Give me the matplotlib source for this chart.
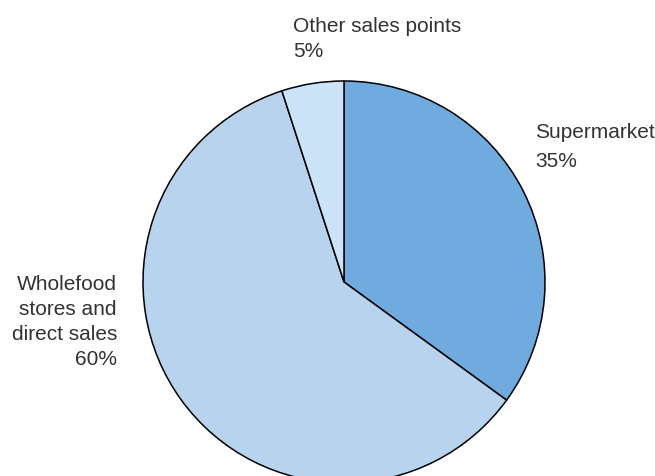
import matplotlib

matplotlib.use("Agg")
import matplotlib.pyplot as plt

# Share of sales by channel
channels = ["Supermarket", "Wholefood\nstores and\ndirect sales", "Other sales points"]
shares = [35, 60, 5]
colors = ["#6fabde", "#b8d3ee", "#cbe4f8"]

W, H = 655, 477
fig = plt.figure(figsize=(W / 100, H / 100), dpi=100)

# pie spans x 143..545, y 82..484 in pixels (bottom runs just off the canvas)
cx, cy, r = 344, 283, 201
ax = fig.add_axes([(cx - r) / W, (H - cy - r) / H, 2 * r / W, 2 * r / H])
ax.pie(
    shares,
    colors=colors,
    startangle=90,
    counterclock=False,
    wedgeprops=dict(edgecolor="black", linewidth=1.1),
)
ax.set_xlim(-1, 1)
ax.set_ylim(-1, 1)
ax.set_aspect("equal")
ax.axis("off")

font = dict(family=["Liberation Sans", "DejaVu Sans"], fontsize=15, color="#333333")


def px(x, y):
    return x / W, 1 - y / H


fig.text(*px(293, 17), f"{channels[2]}\n{shares[2]}%", ha="left", va="top", linespacing=1.4, **font)
fig.text(*px(535, 123), f"{channels[0]}\n{shares[0]}%", ha="left", va="top", linespacing=1.65, **font)
fig.text(*px(117, 275), f"{channels[1]}\n{shares[1]}%", ha="right", va="top",
         multialignment="right", linespacing=1.4, **font)

fig.savefig("out.png", dpi=100)
